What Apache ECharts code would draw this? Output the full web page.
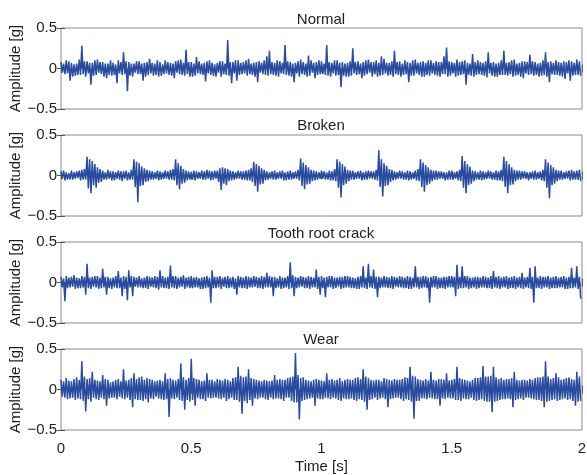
<!DOCTYPE html>
<html>
<head>
<meta charset="utf-8">
<script src="https://cdn.jsdelivr.net/npm/echarts@6/dist/echarts.min.js"></script>
<style>
  html, body { margin: 0; padding: 0; background: #fff; }
  #chart { width: 587px; height: 475px; }
</style>
</head>
<body>
<div id="chart"></div>
<script>
// sample step of the read-off signals (s)
var sampleStep = 0.005;
var titles = ['Normal', 'Broken', 'Tooth root crack', 'Wear'];
var timeTicks = [0, 0.5, 1, 1.5, 2];
var ampTicks = [-0.5, 0, 0.5];

// amplitude [g], one row = 0.1 s
var normal = [
  0.08,-0.05,0.06,-0.07,0.1,-0.06,0.09,-0.15,0.07,-0.1,0.05,-0.09,0.06,-0.08,0.11,-0.08,0.28,-0.07,0.09,-0.1,
  0.09,-0.06,0.07,-0.2,0.07,-0.09,0.1,-0.08,0.11,-0.05,0.08,-0.07,0.08,-0.1,0.06,-0.12,0.06,-0.08,0.1,-0.09,
  0.07,-0.08,0.05,-0.18,0.1,-0.06,0.08,-0.08,0.2,-0.07,0.09,-0.28,0.08,-0.09,0.06,-0.1,0.06,-0.05,0.09,-0.07,
  0.09,-0.07,0.06,-0.15,0.07,-0.1,0.08,-0.08,0.12,-0.06,0.07,-0.09,0.06,-0.08,0.1,-0.1,0.08,-0.09,0.05,-0.07,
  0.1,-0.06,0.08,-0.08,0.07,-0.09,0.06,-0.12,0.09,-0.05,0.1,-0.07,0.11,-0.08,0.07,-0.09,0.23,-0.07,0.08,-0.1,
  0.08,-0.1,0.06,-0.09,0.14,-0.06,0.09,-0.07,0.06,-0.08,0.07,-0.16,0.09,-0.06,0.1,-0.08,0.07,-0.09,0.05,-0.1,
  0.07,-0.05,0.09,-0.1,0.09,-0.07,0.06,-0.08,0.35,-0.09,0.08,-0.18,0.08,-0.06,0.1,-0.15,0.1,-0.08,0.07,-0.07,
  0.08,-0.06,0.1,-0.09,0.12,-0.07,0.06,-0.08,0.07,-0.1,0.08,-0.17,0.09,-0.05,0.07,-0.07,0.1,-0.08,0.15,-0.09,
  0.22,-0.07,0.08,-0.08,0.07,-0.09,0.1,-0.1,0.09,-0.06,0.07,-0.07,0.29,-0.08,0.09,-0.09,0.08,-0.1,0.06,-0.17,
  0.07,-0.06,0.09,-0.1,0.11,-0.07,0.08,-0.08,0.06,-0.1,0.16,-0.09,0.1,-0.05,0.07,-0.12,0.08,-0.08,0.1,-0.07,
  0.09,-0.07,0.06,-0.08,0.29,-0.09,0.08,-0.1,0.07,-0.06,0.1,-0.09,0.1,-0.08,0.07,-0.23,0.08,-0.09,0.06,-0.1,
  0.07,-0.1,0.09,-0.09,0.25,-0.06,0.08,-0.08,0.09,-0.07,0.06,-0.12,0.08,-0.09,0.1,-0.07,0.11,-0.05,0.08,-0.1,
  0.08,-0.07,0.1,-0.1,0.07,-0.09,0.15,-0.08,0.12,-0.06,0.07,-0.09,0.07,-0.08,0.09,-0.1,0.22,-0.07,0.08,-0.08,
  0.09,-0.1,0.06,-0.08,0.1,-0.07,0.08,-0.17,0.07,-0.09,0.1,-0.09,0.11,-0.06,0.07,-0.08,0.08,-0.1,0.09,-0.1,
  0.07,-0.08,0.1,-0.09,0.1,-0.06,0.07,-0.08,0.09,-0.09,0.08,-0.1,0.08,-0.07,0.15,-0.07,0.26,-0.1,0.09,-0.09,
  0.08,-0.06,0.07,-0.1,0.11,-0.09,0.08,-0.08,0.09,-0.07,0.1,-0.2,0.07,-0.08,0.06,-0.09,0.18,-0.1,0.08,-0.08,
  0.1,-0.07,0.08,-0.08,0.07,-0.09,0.09,-0.11,0.2,-0.06,0.07,-0.09,0.08,-0.1,0.06,-0.1,0.07,-0.08,0.1,-0.08,
  0.22,-0.08,0.07,-0.09,0.08,-0.07,0.1,-0.1,0.11,-0.09,0.06,-0.08,0.07,-0.1,0.09,-0.12,0.09,-0.06,0.08,-0.08,
  0.17,-0.07,0.09,-0.09,0.08,-0.08,0.06,-0.1,0.07,-0.09,0.1,-0.08,0.2,-0.1,0.08,-0.17,0.09,-0.07,0.07,-0.08,
  0.1,-0.08,0.08,-0.09,0.07,-0.1,0.09,-0.13,0.08,-0.06,0.1,-0.15,0.09,-0.09,0.07,-0.08,0.11,-0.08,0.09,-0.09
];
var broken = [
  0.05,-0.04,0.06,-0.06,0.04,-0.05,0.03,-0.05,0.06,-0.05,0.04,-0.04,0.05,-0.03,0.06,-0.06,0.07,-0.05,0.08,-0.05,
  0.23,-0.16,0.2,-0.22,0.18,-0.12,0.14,-0.15,0.1,-0.09,0.08,-0.08,0.06,-0.05,0.04,-0.05,0.07,-0.04,0.05,-0.06,
  0.05,-0.06,0.04,-0.04,0.06,-0.05,0.05,-0.07,0.05,-0.04,0.06,-0.06,0.04,-0.05,0.07,-0.05,0.2,-0.14,0.17,-0.33,
  0.15,-0.13,0.11,-0.12,0.09,-0.08,0.07,-0.07,0.06,-0.05,0.05,-0.05,0.04,-0.04,0.06,-0.06,0.05,-0.05,0.04,-0.04,
  0.06,-0.04,0.05,-0.05,0.07,-0.05,0.08,-0.06,0.2,-0.12,0.15,-0.17,0.12,-0.1,0.08,-0.09,0.06,-0.06,0.05,-0.05,
  0.04,-0.05,0.06,-0.06,0.05,-0.04,0.04,-0.04,0.06,-0.05,0.05,-0.05,0.07,-0.04,0.06,-0.06,0.05,-0.05,0.06,-0.04,
  0.06,-0.08,0.09,-0.18,0.1,-0.1,0.09,-0.12,0.08,-0.07,0.06,-0.06,0.05,-0.05,0.04,-0.04,0.06,-0.04,0.05,-0.05,
  0.05,-0.05,0.06,-0.06,0.07,-0.06,0.09,-0.08,0.17,-0.13,0.14,-0.2,0.12,-0.11,0.09,-0.1,0.07,-0.06,0.05,-0.05,
  0.04,-0.04,0.05,-0.05,0.06,-0.05,0.04,-0.04,0.05,-0.04,0.06,-0.06,0.04,-0.06,0.05,-0.05,0.06,-0.05,0.04,-0.04,
  0.05,-0.04,0.07,-0.06,0.21,-0.13,0.16,-0.17,0.13,-0.11,0.1,-0.1,0.07,-0.07,0.06,-0.06,0.05,-0.05,0.04,-0.04,
  0.06,-0.04,0.05,-0.05,0.04,-0.05,0.06,-0.06,0.05,-0.06,0.08,-0.07,0.2,-0.15,0.17,-0.27,0.14,-0.12,0.11,-0.1,
  0.07,-0.07,0.06,-0.05,0.06,-0.05,0.04,-0.04,0.05,-0.04,0.06,-0.06,0.04,-0.05,0.05,-0.05,0.06,-0.04,0.05,-0.04,
  0.05,-0.05,0.07,-0.06,0.31,-0.14,0.2,-0.26,0.15,-0.13,0.12,-0.12,0.08,-0.08,0.07,-0.06,0.05,-0.05,0.04,-0.04,
  0.06,-0.04,0.05,-0.05,0.04,-0.05,0.06,-0.06,0.05,-0.05,0.04,-0.04,0.06,-0.06,0.08,-0.07,0.2,-0.14,0.16,-0.2,
  0.13,-0.12,0.1,-0.1,0.07,-0.07,0.06,-0.05,0.06,-0.05,0.05,-0.04,0.05,-0.04,0.04,-0.06,0.04,-0.05,0.06,-0.05,
  0.06,-0.05,0.04,-0.04,0.05,-0.06,0.07,-0.07,0.24,-0.15,0.18,-0.22,0.14,-0.12,0.11,-0.1,0.06,-0.07,0.05,-0.05,
  0.04,-0.05,0.06,-0.06,0.05,-0.05,0.04,-0.04,0.06,-0.04,0.05,-0.05,0.04,-0.05,0.06,-0.06,0.05,-0.06,0.07,-0.07,
  0.23,-0.14,0.18,-0.22,0.14,-0.12,0.1,-0.11,0.07,-0.07,0.06,-0.05,0.06,-0.05,0.05,-0.04,0.05,-0.04,0.04,-0.06,
  0.04,-0.04,0.05,-0.05,0.06,-0.05,0.04,-0.04,0.05,-0.06,0.07,-0.07,0.2,-0.15,0.16,-0.28,0.13,-0.12,0.1,-0.1,
  0.07,-0.07,0.06,-0.05,0.06,-0.05,0.04,-0.04,0.05,-0.04,0.06,-0.06,0.07,-0.05,0.05,-0.05,0.06,-0.05,0.07,-0.07
];
var rootCrack = [
  0.07,-0.06,0.05,-0.23,0.08,-0.07,0.06,-0.06,0.07,-0.05,0.09,-0.08,0.06,-0.07,0.05,-0.07,0.08,-0.06,0.07,-0.15,
  0.23,-0.07,0.06,-0.08,0.07,-0.05,0.08,-0.06,0.08,-0.08,0.06,-0.07,0.17,-0.06,0.07,-0.15,0.07,-0.07,0.05,-0.08,
  0.06,-0.06,0.08,-0.07,0.14,-0.07,0.06,-0.17,0.08,-0.08,0.07,-0.22,0.15,-0.06,0.08,-0.17,0.07,-0.05,0.06,-0.06,
  0.08,-0.06,0.05,-0.07,0.06,-0.07,0.08,-0.08,0.07,-0.05,0.06,-0.06,0.08,-0.07,0.07,-0.09,0.15,-0.06,0.08,-0.07,
  0.06,-0.07,0.07,-0.08,0.21,-0.06,0.08,-0.07,0.08,-0.08,0.06,-0.06,0.07,-0.05,0.09,-0.08,0.06,-0.06,0.07,-0.07,
  0.08,-0.07,0.06,-0.06,0.07,-0.06,0.05,-0.08,0.06,-0.08,0.07,-0.07,0.08,-0.06,0.06,-0.25,0.15,-0.07,0.07,-0.07,
  0.07,-0.06,0.08,-0.08,0.06,-0.05,0.07,-0.07,0.08,-0.07,0.06,-0.06,0.07,-0.08,0.05,-0.15,0.08,-0.06,0.07,-0.07,
  0.06,-0.07,0.08,-0.08,0.07,-0.06,0.06,-0.06,0.08,-0.05,0.07,-0.07,0.06,-0.07,0.08,-0.08,0.07,-0.06,0.12,-0.06,
  0.08,-0.06,0.07,-0.17,0.07,-0.07,0.05,-0.06,0.08,-0.08,0.06,-0.07,0.06,-0.06,0.08,-0.08,0.25,-0.07,0.09,-0.17,
  0.07,-0.07,0.06,-0.06,0.08,-0.05,0.07,-0.07,0.06,-0.07,0.08,-0.08,0.07,-0.06,0.06,-0.06,0.16,-0.08,0.07,-0.15,
  0.08,-0.07,0.06,-0.18,0.07,-0.06,0.08,-0.06,0.08,-0.08,0.06,-0.07,0.06,-0.05,0.07,-0.08,0.07,-0.07,0.08,-0.06,
  0.08,-0.06,0.07,-0.07,0.06,-0.07,0.05,-0.08,0.07,-0.08,0.08,-0.06,0.2,-0.07,0.06,-0.08,0.23,-0.06,0.08,-0.07,
  0.16,-0.08,0.07,-0.18,0.07,-0.07,0.06,-0.06,0.08,-0.06,0.07,-0.07,0.06,-0.07,0.08,-0.08,0.07,-0.05,0.06,-0.06,
  0.08,-0.06,0.07,-0.07,0.06,-0.07,0.08,-0.08,0.07,-0.08,0.06,-0.06,0.2,-0.06,0.07,-0.08,0.07,-0.07,0.08,-0.06,
  0.08,-0.07,0.06,-0.25,0.07,-0.06,0.08,-0.06,0.08,-0.08,0.06,-0.07,0.06,-0.07,0.07,-0.08,0.07,-0.06,0.08,-0.06,
  0.08,-0.06,0.07,-0.17,0.22,-0.08,0.07,-0.07,0.2,-0.07,0.08,-0.06,0.08,-0.08,0.06,-0.07,0.06,-0.06,0.07,-0.08,
  0.07,-0.07,0.06,-0.06,0.08,-0.06,0.07,-0.07,0.06,-0.07,0.08,-0.08,0.14,-0.06,0.07,-0.07,0.08,-0.08,0.06,-0.06,
  0.07,-0.06,0.08,-0.08,0.06,-0.07,0.07,-0.07,0.08,-0.08,0.06,-0.06,0.07,-0.07,0.12,-0.08,0.06,-0.06,0.07,-0.07,
  0.18,-0.08,0.07,-0.25,0.2,-0.07,0.06,-0.07,0.08,-0.08,0.07,-0.06,0.07,-0.06,0.08,-0.08,0.06,-0.07,0.07,-0.07,
  0.08,-0.07,0.06,-0.06,0.07,-0.06,0.08,-0.08,0.06,-0.08,0.07,-0.07,0.18,-0.07,0.06,-0.06,0.2,-0.08,0.07,-0.2
];
var wear = [
  0.12,-0.09,0.1,-0.1,0.14,-0.12,0.11,-0.11,0.1,-0.1,0.13,-0.13,0.15,-0.11,0.12,-0.12,0.35,-0.14,0.16,-0.27,
  0.13,-0.12,0.14,-0.15,0.22,-0.1,0.12,-0.12,0.11,-0.13,0.1,-0.1,0.18,-0.12,0.13,-0.2,0.12,-0.11,0.09,-0.1,
  0.1,-0.1,0.12,-0.12,0.13,-0.09,0.1,-0.11,0.25,-0.12,0.11,-0.1,0.12,-0.13,0.14,-0.22,0.2,-0.12,0.13,-0.13,
  0.15,-0.13,0.16,-0.14,0.12,-0.12,0.14,-0.16,0.13,-0.11,0.12,-0.12,0.1,-0.09,0.11,-0.11,0.12,-0.12,0.1,-0.13,
  0.2,-0.12,0.13,-0.34,0.14,-0.11,0.12,-0.12,0.11,-0.1,0.13,-0.13,0.32,-0.14,0.15,-0.25,0.12,-0.13,0.14,-0.15,
  0.38,-0.13,0.14,-0.2,0.13,-0.1,0.12,-0.12,0.1,-0.12,0.11,-0.14,0.2,-0.1,0.12,-0.11,0.12,-0.1,0.1,-0.1,
  0.13,-0.11,0.12,-0.12,0.11,-0.1,0.13,-0.14,0.12,-0.12,0.1,-0.1,0.14,-0.13,0.15,-0.13,0.28,-0.15,0.17,-0.3,
  0.15,-0.14,0.16,-0.17,0.25,-0.13,0.14,-0.2,0.13,-0.11,0.12,-0.12,0.11,-0.1,0.1,-0.1,0.12,-0.12,0.11,-0.13,
  0.1,-0.1,0.11,-0.12,0.18,-0.11,0.12,-0.11,0.13,-0.12,0.12,-0.14,0.12,-0.1,0.14,-0.1,0.15,-0.14,0.16,-0.16,
  0.45,-0.16,0.18,-0.37,0.14,-0.14,0.15,-0.13,0.12,-0.12,0.11,-0.11,0.1,-0.1,0.12,-0.2,0.13,-0.11,0.12,-0.12,
  0.11,-0.12,0.1,-0.1,0.2,-0.11,0.12,-0.12,0.13,-0.1,0.11,-0.11,0.12,-0.13,0.14,-0.14,0.1,-0.11,0.12,-0.12,
  0.13,-0.12,0.12,-0.11,0.12,-0.13,0.14,-0.14,0.15,-0.12,0.13,-0.13,0.25,-0.15,0.16,-0.25,0.14,-0.13,0.12,-0.12,
  0.11,-0.1,0.12,-0.13,0.12,-0.11,0.1,-0.1,0.14,-0.12,0.13,-0.22,0.12,-0.12,0.11,-0.11,0.13,-0.1,0.12,-0.1,
  0.12,-0.12,0.13,-0.14,0.15,-0.12,0.14,-0.13,0.28,-0.15,0.17,-0.36,0.16,-0.14,0.13,-0.14,0.12,-0.11,0.11,-0.11,
  0.13,-0.12,0.11,-0.1,0.22,-0.11,0.12,-0.12,0.11,-0.12,0.13,-0.2,0.13,-0.11,0.12,-0.12,0.2,-0.1,0.11,-0.11,
  0.12,-0.11,0.13,-0.13,0.28,-0.13,0.14,-0.14,0.13,-0.11,0.12,-0.12,0.11,-0.12,0.1,-0.1,0.12,-0.13,0.14,-0.14,
  0.14,-0.13,0.15,-0.12,0.29,-0.14,0.16,-0.15,0.16,-0.15,0.17,-0.28,0.28,-0.15,0.15,-0.14,0.13,-0.13,0.14,-0.12,
  0.12,-0.12,0.13,-0.11,0.13,-0.12,0.14,-0.22,0.22,-0.13,0.12,-0.12,0.11,-0.11,0.12,-0.13,0.12,-0.1,0.11,-0.1,
  0.13,-0.11,0.12,-0.12,0.14,-0.13,0.15,-0.13,0.15,-0.14,0.16,-0.22,0.35,-0.15,0.16,-0.14,0.13,-0.13,0.14,-0.12,
  0.2,-0.14,0.15,-0.13,0.12,-0.12,0.13,-0.11,0.14,-0.13,0.15,-0.12,0.13,-0.14,0.12,-0.2,0.22,-0.15,0.16,-0.14
];

var signals = [normal, broken, rootCrack, wear];
var lineColor = '#2a4c9f';
var gridTops = [28, 135, 242, 349];
var gridHeight = 81;
var titleTops = [7, 113, 221, 327];
var textFont = '"Liberation Sans", Arial, sans-serif';
var textColor = '#1e1e1e';

function toPairs(vals) {
  var out = [];
  for (var i = 0; i < vals.length; i++) {
    out.push([+(i * sampleStep).toFixed(4), vals[i]]);
  }
  return out;
}

var option = {
  animation: false,
  backgroundColor: '#fff',
  title: [],
  grid: [],
  xAxis: [],
  yAxis: [],
  series: []
};

for (var k = 0; k < 4; k++) {
  var last = k === 3;
  option.title.push({
    text: titles[k],
    left: 316,
    top: titleTops[k],
    textAlign: 'center',
    textStyle: { fontFamily: textFont, fontSize: 15, fontWeight: 'normal', color: textColor }
  });
  option.grid.push({
    left: 61, right: 5, top: gridTops[k], height: gridHeight,
    outerBoundsMode: 'none',
    show: true, borderColor: '#8a8a8a', borderWidth: 1, backgroundColor: '#fff'
  });
  // bottom and top x axes (top one only for the inner ticks)
  ['bottom', 'top'].forEach(function (pos) {
    option.xAxis.push({
      type: 'value', gridIndex: k, position: pos,
      min: timeTicks[0], max: timeTicks[timeTicks.length - 1], interval: 0.5,
      axisLine: { show: false },
      axisTick: { show: true, inside: true, length: 4, lineStyle: { color: '#555' } },
      axisLabel: {
        show: last && pos === 'bottom', margin: 11,
        fontFamily: textFont, fontSize: 15, color: textColor
      },
      splitLine: { show: false },
      name: last && pos === 'bottom' ? 'Time [s]' : '',
      nameLocation: 'middle', nameGap: 29,
      nameMoveOverlap: false,
      nameTextStyle: { fontFamily: textFont, fontSize: 15, color: textColor }
    });
  });
  ['left', 'right'].forEach(function (pos) {
    option.yAxis.push({
      type: 'value', gridIndex: k, position: pos,
      min: ampTicks[0], max: ampTicks[ampTicks.length - 1], interval: 0.5,
      axisLine: { show: false },
      axisTick: { show: true, inside: true, length: 4, lineStyle: { color: '#555' } },
      axisLabel: {
        show: pos === 'left', margin: 4,
        fontFamily: textFont, fontSize: 15, color: textColor,
        formatter: function (v) { return String(v).replace('-', '\u2212'); }
      },
      splitLine: { show: false },
      name: pos === 'left' ? 'Amplitude [g]' : '',
      nameLocation: 'middle', nameGap: 38,
      nameMoveOverlap: false,
      nameTextStyle: { fontFamily: textFont, fontSize: 15, color: textColor }
    });
  });
  option.series.push({
    type: 'line',
    xAxisIndex: k * 2,
    yAxisIndex: k * 2,
    data: toPairs(signals[k]),
    showSymbol: false,
    sampling: false,
    lineStyle: { color: lineColor, width: 1.5 },
    // fill to zero so the dense core reads as a solid band
    areaStyle: { color: lineColor, opacity: 1, origin: 0 },
    z: 3
  });
}

var chart = echarts.init(document.getElementById('chart'));
chart.setOption(option);
</script>
</body>
</html>
